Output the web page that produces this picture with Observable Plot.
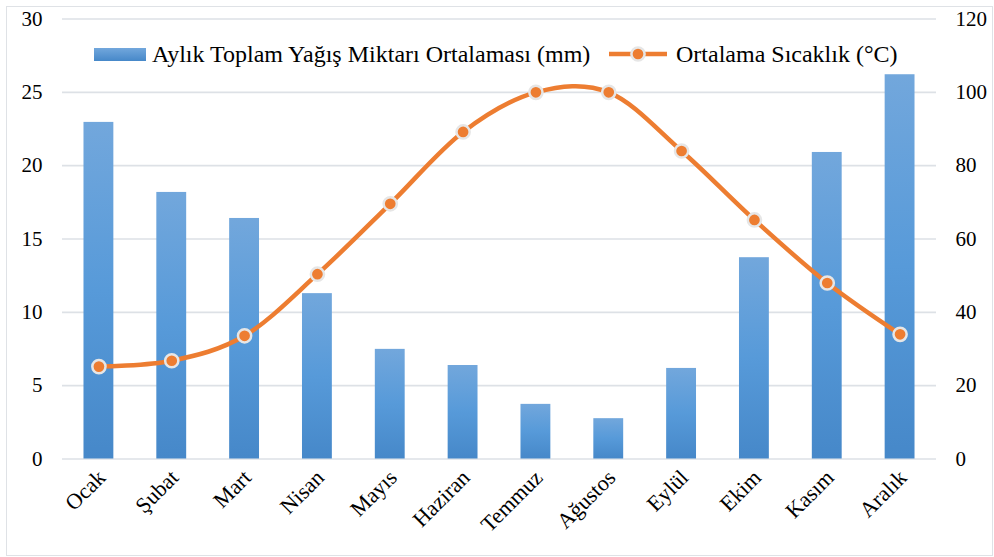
<!DOCTYPE html>
<html>
<head>
<meta charset="utf-8">
<script src="https://cdn.jsdelivr.net/npm/d3@7"></script>
<script src="https://cdn.jsdelivr.net/npm/@observablehq/plot@0.6"></script>
<style>
  html, body { margin: 0; padding: 0; background: #fff; }
  #wrap { position: relative; width: 994px; height: 557px; font-family: 'Liberation Serif', Tinos, 'Times New Roman', serif; }
  #frame { position: absolute; left: 6px; top: 6px; width: 987px; height: 550px; border: 1px solid #dfe2e6; box-sizing: border-box; pointer-events: none; }
  #legend { position: absolute; left: 0; top: 0; width: 994px; height: 0; font-size: 24px; color: #000; }
  .item { position: absolute; display: flex; align-items: center; white-space: nowrap; height: 28px; }
  .item span { font-family: 'Liberation Serif', Tinos, 'Times New Roman', serif; line-height: 28px; }
  svg { display: block; }
</style>
</head>
<body>
<div id="wrap">
  <div id="chart"></div>
  <div id="legend"></div>
  <div id="frame"></div>
</div>
<script>
const months = ["Ocak","Şubat","Mart","Nisan","Mayıs","Haziran","Temmuz","Ağustos","Eylül","Ekim","Kasım","Aralık"];
const precip = [91.8, 72.7, 65.6, 45.1, 29.9, 25.5, 14.9, 11.0, 24.7, 54.9, 83.6, 104.8];
const temp = [6.3, 6.7, 8.4, 12.6, 17.4, 22.3, 25.0, 25.0, 21.0, 16.3, 12.0, 8.5];
const tempTicks = [0, 5, 10, 15, 20, 25, 30];
const precipPerTemp = 4; // right axis 0–120 mm vs left axis 0–30 °C
const precipLabel = "Aylık Toplam Yağış Miktarı Ortalaması (mm)";
const tempLabel = "Ortalama Sıcaklık (°C)";

const data = months.map((m, i) => ({month: m, precip: precip[i], temp: temp[i]}));

const gridColor = "#dde1e6";
const orange = "#ed7d31";

const chart = Plot.plot({
  width: 994,
  height: 557,
  marginLeft: 62,
  marginRight: 58,
  marginTop: 18.5,
  marginBottom: 98.5,
  style: {fontFamily: "'Liberation Serif', Tinos, 'Times New Roman', serif", fontSize: "21px", color: "#000", background: "transparent"},
  x: {domain: months, paddingInner: 0.59, paddingOuter: 0.295, round: false},
  y: {domain: [0, 30]},
  marks: [
    Plot.gridY(tempTicks, {stroke: gridColor, strokeOpacity: 1, strokeWidth: 1.6}),
    Plot.axisY(tempTicks, {anchor: "left", tickSize: 0, tickPadding: 20, fontSize: 21, label: null}),
    Plot.axisY(tempTicks, {anchor: "right", tickSize: 0, tickPadding: 19, fontSize: 21, label: null, tickFormat: d => d * precipPerTemp}),
    Plot.barY(data, {x: "month", y: d => d.precip / precipPerTemp, fill: "url(#barGrad)"}),
    Plot.axisX({tickRotate: -45, tickSize: 0, tickPadding: 15, dx: 3, fontSize: 22, label: null}),
    Plot.line(data, {x: "month", y: "temp", stroke: orange, strokeWidth: 4.5, curve: d3.curveCardinal.tension(0)}),
    Plot.dot(data, {x: "month", y: "temp", r: 6.6, fill: orange, stroke: "#e6e6e6", strokeWidth: 2.5})
  ]
});

d3.select(chart).insert("defs", ":first-child").html(`
  <linearGradient id="barGrad" x1="0" y1="0" x2="0" y2="1">
    <stop offset="0" stop-color="#72a7dc"/>
    <stop offset="0.5" stop-color="#579ad9"/>
    <stop offset="1" stop-color="#4688c9"/>
  </linearGradient>`);
document.getElementById("chart").appendChild(chart);

// Legend (inside the plot area, as in the reference)
const legend = d3.select("#legend");
const item1 = legend.append("div").attr("class", "item").style("left", "94px").style("top", "40px");
item1.append("div").style("width", "52px").style("height", "13px").style("margin-right", "6px")
  .style("background", "linear-gradient(#72a7dc, #4688c9)");
item1.append("span").text(precipLabel);

const item2 = legend.append("div").attr("class", "item").style("left", "609px").style("top", "40px");
const sw = item2.append("svg").attr("width", 60).attr("height", 26).style("margin-right", "7px");
sw.append("line").attr("x1", 0).attr("x2", 58).attr("y1", 13).attr("y2", 13).attr("stroke", orange).attr("stroke-width", 4.5);
sw.append("circle").attr("cx", 29).attr("cy", 13).attr("r", 6.6).attr("fill", orange).attr("stroke", "#e6e6e6").attr("stroke-width", 2.5);
item2.append("span").text(tempLabel);
</script>
</body>
</html>
